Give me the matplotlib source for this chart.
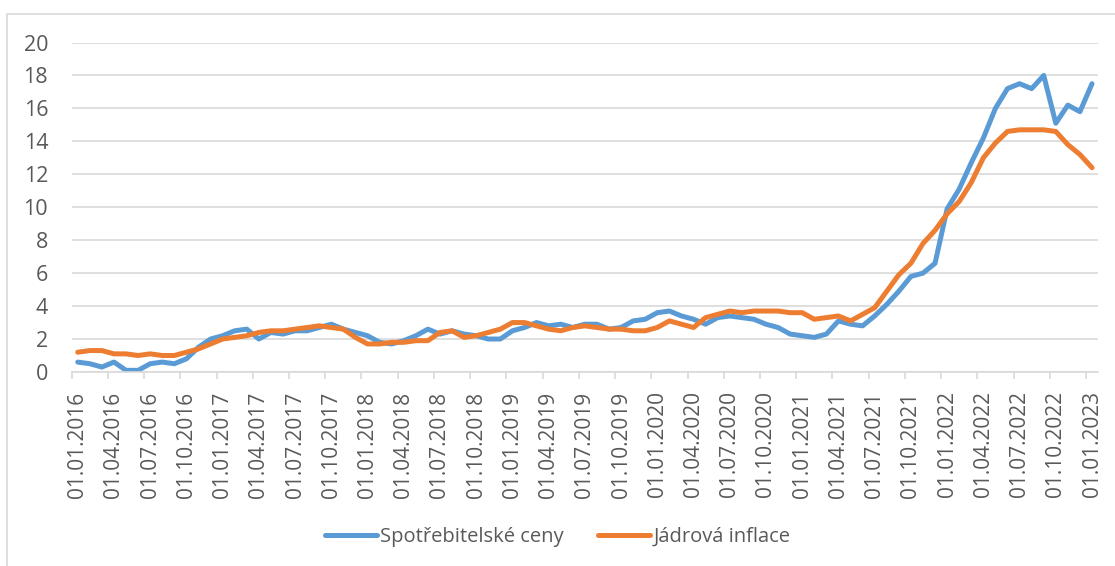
import pandas as pd
import matplotlib
matplotlib.use("Agg")
import matplotlib.pyplot as plt
import matplotlib.ticker as ticker
from matplotlib.patches import Rectangle

plt.rcParams.update({
    "font.family": ["Open Sans", "DejaVu Sans"],
    "figure.dpi": 100,
})

# monthly data, 01.01.2016 .. 01.01.2023
START = "2016-01-01"
cpi = [0.6, 0.5, 0.3, 0.6, 0.1, 0.1, 0.5, 0.6, 0.5, 0.8, 1.5, 2.0,
       2.2, 2.5, 2.6, 2.0, 2.4, 2.3, 2.5, 2.5, 2.7, 2.9, 2.6, 2.4,
       2.2, 1.8, 1.7, 1.9, 2.2, 2.6, 2.3, 2.5, 2.3, 2.2, 2.0, 2.0,
       2.5, 2.7, 3.0, 2.8, 2.9, 2.7, 2.9, 2.9, 2.6, 2.7, 3.1, 3.2,
       3.6, 3.7, 3.4, 3.2, 2.9, 3.3, 3.4, 3.3, 3.2, 2.9, 2.7, 2.3,
       2.2, 2.1, 2.3, 3.1, 2.9, 2.8, 3.4, 4.1, 4.9, 5.8, 6.0, 6.6,
       9.9, 11.1, 12.7, 14.2, 16.0, 17.2, 17.5, 17.2, 18.0, 15.1, 16.2, 15.8,
       17.5]
core = [1.2, 1.3, 1.3, 1.1, 1.1, 1.0, 1.1, 1.0, 1.0, 1.2, 1.4, 1.7,
        2.0, 2.1, 2.2, 2.4, 2.5, 2.5, 2.6, 2.7, 2.8, 2.7, 2.6, 2.1,
        1.7, 1.7, 1.8, 1.8, 1.9, 1.9, 2.4, 2.5, 2.1, 2.2, 2.4, 2.6,
        3.0, 3.0, 2.8, 2.6, 2.5, 2.7, 2.8, 2.7, 2.6, 2.6, 2.5, 2.5,
        2.7, 3.1, 2.9, 2.7, 3.3, 3.5, 3.7, 3.6, 3.7, 3.7, 3.7, 3.6,
        3.6, 3.2, 3.3, 3.4, 3.1, 3.5, 3.9, 4.9, 5.9, 6.6, 7.8, 8.6,
        9.6, 10.35, 11.5, 13.0, 13.9, 14.6, 14.7, 14.7, 14.7, 14.6, 13.8, 13.2,
        12.4]
series_names = ["Spotřebitelské ceny", "Jádrová inflace"]
colors = ["#5B9BD5", "#ED7D31"]

dates = pd.date_range(START, periods=len(cpi), freq="MS")
x = list(range(len(dates)))
labels = [d.strftime("%d.%m.%Y") for d in dates]

fig = plt.figure(figsize=(11.15, 5.66))
ax = fig.add_axes([0.0643, 0.3428, 0.9205, 0.5821])

for vals, name, c in zip([cpi, core], series_names, colors):
    ax.plot(x, vals, color=c, linewidth=3.6, label=name,
            solid_joinstyle="round", solid_capstyle="round")

ax.set_xlim(-0.5, len(x) - 0.5)
ax.set_ylim(0, 20)
ax.set_yticks(range(0, 21, 2))
ax.grid(axis="y", color="#D9D9D9", linewidth=1.2)
ax.set_axisbelow(True)

# labels at every 3rd month, tick marks between categories
ax.set_xticks(x[::3])
ax.set_xticklabels(labels[::3], rotation=90)
ax.xaxis.set_minor_locator(ticker.FixedLocator([i - 0.5 for i in x[::3]]))
ax.tick_params(axis="x", which="major", length=0, pad=14,
               labelsize=15, labelcolor="#595959")
ax.tick_params(axis="x", which="minor", length=5, width=1.2, color="#D9D9D9")
ax.tick_params(axis="y", length=0, pad=17, labelsize=15.5, labelcolor="#595959")

for s in ("top", "right", "left"):
    ax.spines[s].set_visible(False)
ax.spines["bottom"].set_color("#D9D9D9")
ax.spines["bottom"].set_linewidth(1.2)

fig.legend(loc="center", bbox_to_anchor=(0.5, 0.051), ncol=2, frameon=False,
           fontsize=14.5, labelcolor="#595959", handlelength=2.6,
           handletextpad=0.15, columnspacing=1.7)

# chart area border
fig.add_artist(Rectangle((0.0067, -0.1), 1.2, 1.076, transform=fig.transFigure,
                         fill=False, edgecolor="#D9D9D9", linewidth=1.2))

fig.savefig("out.png", dpi=100)
